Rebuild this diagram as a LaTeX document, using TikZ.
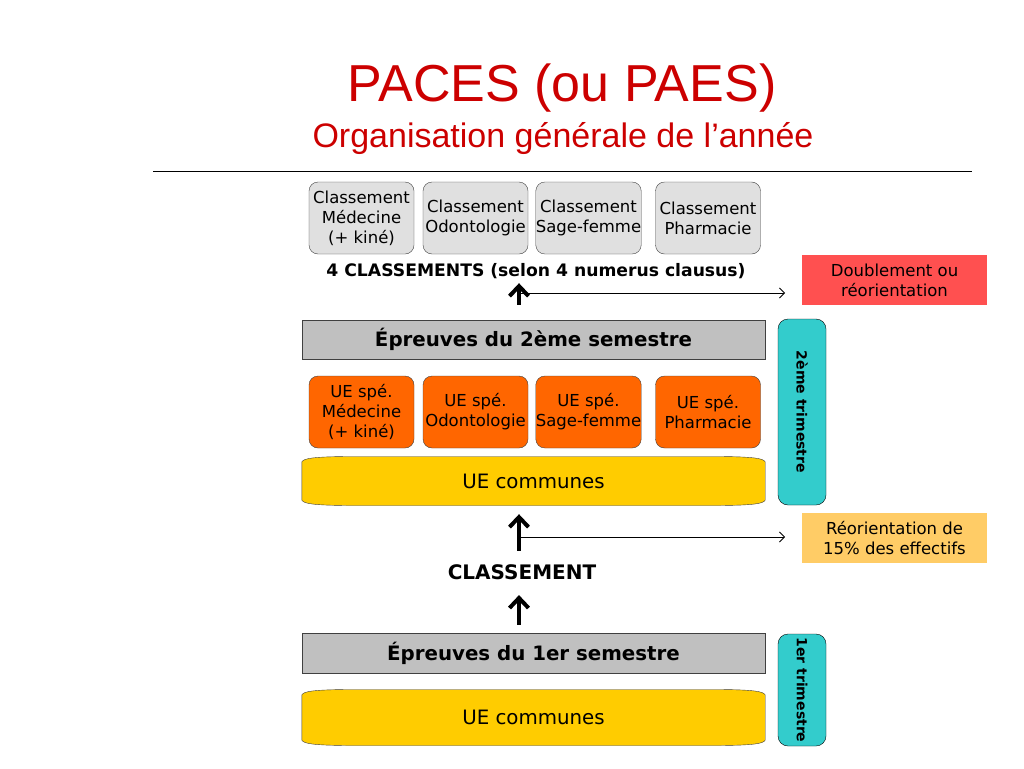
\documentclass[tikz,border=0pt]{standalone}
\usepackage{fontspec}
\setmainfont{DejaVu Sans}
\newfontfamily\titrefont{Liberation Sans}
\usetikzlibrary{arrows.meta,backgrounds,calc}

\definecolor{rougetitre}{RGB}{204,0,0}
\definecolor{bordgris}{RGB}{64,64,64}
\definecolor{grisclair}{RGB}{224,224,224}
\definecolor{grisbar}{RGB}{192,192,192}
\definecolor{orangeue}{RGB}{255,102,0}
\definecolor{jauneue}{RGB}{255,204,0}
\definecolor{cyantri}{RGB}{51,204,204}
\definecolor{rougesortie}{RGB}{255,80,80}
\definecolor{orangesortie}{RGB}{255,204,102}

\tikzset{
  classe/.style={draw=bordgris, fill=grisclair, rounded corners=9pt, minimum width=105, minimum height=72,
    align=center, inner sep=0pt, font=\fontsize{16.5}{20}\selectfont},
  uespe/.style={classe, fill=orangeue},
  epreuve/.style={draw=bordgris, fill=grisbar, minimum width=463, minimum height=39, inner sep=0pt,
    font=\bfseries\fontsize{19.8}{22}\selectfont},
  uecom/.style={minimum width=463, minimum height=48, inner sep=0pt, font=\fontsize{19.8}{22}\selectfont},
  trim/.style={draw=black, fill=cyantri, rounded corners=10pt, rotate=-90, minimum height=48, inner sep=0pt,
    font=\bfseries\fontsize{14}{16}\selectfont},
  sortie/.style={minimum width=185, minimum height=50, align=center, inner sep=0pt,
    font=\fontsize{16.5}{20}\selectfont},
  grosse/.style={line width=4pt, -{Straight Barb[length=10pt,width=19pt]}},
  fine/.style={line width=0.8pt, -{Straight Barb[length=5pt,width=10pt]}},
}

% contour bombe des UE communes
\newcommand{\uecourbe}[1]{%
  \begin{scope}[on background layer]
    \draw[fill=jauneue, draw=bordgris]
      ([yshift=-5pt]#1.north west)
      .. controls ([xshift=2pt,yshift=-1.5pt]#1.north west) and ([xshift=12pt]#1.north west) .. ([xshift=45pt,yshift=0.3pt]#1.north west)
      .. controls ($(#1.north)+(0,0.6)$) .. ([xshift=-45pt,yshift=0.3pt]#1.north east)
      .. controls ([xshift=-12pt]#1.north east) and ([xshift=-2pt,yshift=-1.5pt]#1.north east) .. ([yshift=-5pt]#1.north east)
      -- ([yshift=5pt]#1.south east)
      .. controls ([xshift=-2pt,yshift=1.5pt]#1.south east) and ([xshift=-12pt]#1.south east) .. ([xshift=-45pt,yshift=-0.3pt]#1.south east)
      .. controls ($(#1.south)+(0,-0.6)$) .. ([xshift=45pt,yshift=-0.3pt]#1.south west)
      .. controls ([xshift=12pt]#1.south west) and ([xshift=2pt,yshift=1.5pt]#1.south west) .. ([yshift=5pt]#1.south west)
      -- cycle;
  \end{scope}}

\begin{document}
\begin{tikzpicture}[x=1pt,y=-1pt]
\useasboundingbox (0,0) rectangle (1024,768);

% titre
\node[font=\titrefont\fontsize{52}{56}\selectfont, text=rougetitre] (titre) at (562,88) {PACES (ou PAES)};
\node[font=\titrefont\fontsize{34}{38}\selectfont, text=rougetitre] (soustitre) at (563,139) {Organisation générale de l’année};
\draw[line width=0.8pt] (153,171) -- (972,171);

% classements
\node[classe] (clmed) at (361.5,218) {Classement\\Médecine\\(+ kiné)};
\node[classe] (clodo) at (475.5,218) {Classement\\Odontologie};
\node[classe] (clsage) at (588.5,218) {Classement\\Sage-femme};
\node[classe] (clpha) at (708,218) {Classement\\Pharmacie};
\node[font=\bfseries\fontsize{17.2}{20}\selectfont] (nc) at (536,271) {4 CLASSEMENTS (selon 4 numerus clausus)};
\node[sortie, fill=rougesortie] (doubl) at (894.5,280) {Doublement ou\\réorientation};

% second semestre
\node[epreuve] (ep2) at (533.5,339.5) {Épreuves du 2ème semestre};
\node[trim, minimum width=186] (tri2) at (802,412) {2ème trimestre};
\node[uespe] (uemed) at (361.5,412) {UE spé.\\Médecine\\(+ kiné)};
\node[uespe] (ueodo) at (475.5,412) {UE spé.\\Odontologie};
\node[uespe] (uesage) at (588.5,412) {UE spé.\\Sage-femme};
\node[uespe] (uepha) at (708,412) {UE spé.\\Pharmacie};
\node[uecom] (com2) at (533.5,481) {UE communes};
\uecourbe{com2}

% premier semestre
\node[sortie, fill=orangesortie] (reor) at (894.5,538) {Réorientation de\\15\% des effectifs};
\node[font=\bfseries\fontsize{20}{22}\selectfont] (cl) at (522,572) {CLASSEMENT};
\node[epreuve, minimum height=40] (ep1) at (533.5,653) {Épreuves du 1er semestre};
\node[uecom, minimum height=55] (com1) at (533.5,717.5) {UE communes};
\uecourbe{com1}
\node[trim, minimum width=112] (tri1) at (802,690) {1er trimestre};

% fleches
\coordinate (br1) at (519,293);
\coordinate (f1) at (785,293);
\coordinate (br2) at (519,537);
\coordinate (f2) at (785,537);
\draw[grosse, shorten <=15pt, shorten >=1pt] (ep2.north -| br1) -- (nc.south -| br1);
\draw[fine] (br1) -- (f1);
\draw[grosse, shorten <=10pt, shorten >=9pt] (cl.north -| br2) -- (com2.south -| br2);
\draw[fine] (br2) -- (f2);
\draw[grosse, shorten <=8pt, shorten >=12pt] (ep1.north -| br2) -- (cl.south -| br2);
\end{tikzpicture}
\end{document}
